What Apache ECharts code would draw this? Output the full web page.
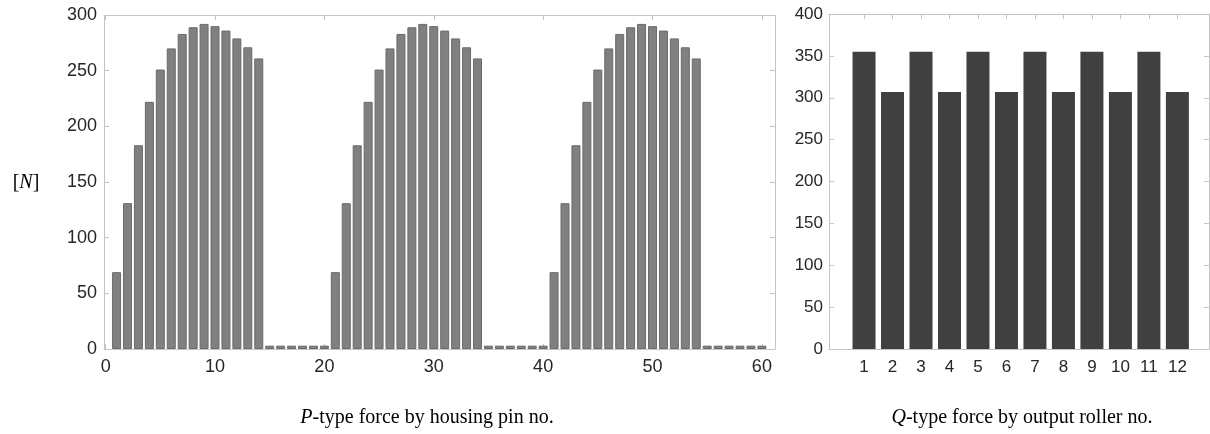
<!DOCTYPE html>
<html>
<head>
<meta charset="utf-8">
<script src="https://cdn.jsdelivr.net/npm/echarts@6/dist/echarts.min.js"></script>
<style>
html,body{margin:0;padding:0;background:#fff;}
#chart{width:1210px;height:434px;}
</style>
</head>
<body>
<div id="chart"></div>
<script>
// ---- Data ----
const pinNo = [1,2,3,4,5,6,7,8,9,10,11,12,13,14,15,16,17,18,19,20,
  21,22,23,24,25,26,27,28,29,30,31,32,33,34,35,36,37,38,39,40,
  41,42,43,44,45,46,47,48,49,50,51,52,53,54,55,56,57,58,59,60];
const pForce = [69,131,183,222,251,270,283,289,292,290,286,279,271,261,3,3,3,3,3,3,
  69,131,183,222,251,270,283,289,292,290,286,279,271,261,3,3,3,3,3,3,
  69,131,183,222,251,270,283,289,292,290,286,279,271,261,3,3,3,3,3,3];
const pTicks = [0,10,20,30,40,50,60];

const rollerNo = [1,2,3,4,5,6,7,8,9,10,11,12];
const qForce = [355,307,355,307,355,307,355,307,355,307,355,307];

const yLabel = '[N]';
const pCaption = 'P-type force by housing pin no.';
const qCaption = 'Q-type force by output roller no.';

// ---- Chart ----
const chart = echarts.init(document.getElementById('chart'), null, {renderer:'canvas'});
const frameColor = '#c4c4c4';
const labelColor = '#262626';
const sans = '"Liberation Sans", Arial, sans-serif';
const serif = '"Liberation Serif", "Times New Roman", serif';

function xAxisPair(gridIndex, min, max, ticks, fontSize, labelMargin) {
  return [
    { type:'value', gridIndex, position:'bottom', min, max,
      axisLine:{show:true, onZero:false, lineStyle:{color:frameColor, width:1}},
      axisTick:{show:true, inside:true, length:5, customValues:ticks, lineStyle:{color:frameColor}},
      axisLabel:{show:true, customValues:ticks, color:labelColor, fontFamily:sans, fontSize, margin:labelMargin},
      splitLine:{show:false} },
    { type:'value', gridIndex, position:'top', min, max,
      axisLine:{show:true, onZero:false, lineStyle:{color:frameColor, width:1}},
      axisTick:{show:true, inside:true, length:5, customValues:ticks, lineStyle:{color:frameColor}},
      axisLabel:{show:false},
      splitLine:{show:false} }
  ];
}
function yAxisPair(gridIndex, max, fontSize, labelMargin) {
  return [
    { type:'value', gridIndex, position:'left', min:0, max, interval:50,
      axisLine:{show:true, onZero:false, lineStyle:{color:frameColor, width:1}},
      axisTick:{show:true, inside:true, length:5, lineStyle:{color:frameColor}},
      axisLabel:{show:true, color:labelColor, fontFamily:sans, fontSize, margin:labelMargin},
      splitLine:{show:false} },
    { type:'value', gridIndex, position:'right', min:0, max, interval:50,
      axisLine:{show:true, onZero:false, lineStyle:{color:frameColor, width:1}},
      axisTick:{show:true, inside:true, length:5, lineStyle:{color:frameColor}},
      axisLabel:{show:false},
      splitLine:{show:false} }
  ];
}

const option = {
  backgroundColor:'#ffffff',
  animation:false,
  grid:[
    {left:104, top:15, width:671, height:334},
    {left:829, top:14, width:380, height:335}
  ],
  xAxis:[
    ...xAxisPair(0, -0.15, 61.2, pTicks, 18, 9),
    ...xAxisPair(1, -0.23, 13.11, rollerNo, 17, 10)
  ],
  yAxis:[
    ...yAxisPair(0, 300, 18, 7),
    ...yAxisPair(1, 400, 17, 6)
  ],
  series:[
    { type:'bar', xAxisIndex:0, yAxisIndex:0, barWidth:9,
      itemStyle:{color:'#808080', borderColor:'#6a6a6a', borderWidth:1},
      data: pinNo.map((n,i)=>[n, pForce[i]]) },
    { type:'bar', xAxisIndex:2, yAxisIndex:2, barWidth:23,
      itemStyle:{color:'#404040'},
      data: rollerNo.map((n,i)=>[n, qForce[i]]) }
  ],
  graphic:[
    { type:'text', x:26, y:183,
      style:{ text:'[{i|N}]', fontFamily:serif, fontSize:20, fill:'#000',
        align:'center', verticalAlign:'middle',
        rich:{ i:{fontStyle:'italic', fontFamily:serif, fontSize:20, fill:'#000'} } } },
    { type:'text', x:427, y:418,
      style:{ text:'{i|P}-type force by housing pin no.', fontFamily:serif, fontSize:20, fill:'#000',
        align:'center', verticalAlign:'middle',
        rich:{ i:{fontStyle:'italic', fontFamily:serif, fontSize:20, fill:'#000'} } } },
    { type:'text', x:1022, y:418,
      style:{ text:'{i|Q}-type force by output roller no.', fontFamily:serif, fontSize:20, fill:'#000',
        align:'center', verticalAlign:'middle',
        rich:{ i:{fontStyle:'italic', fontFamily:serif, fontSize:20, fill:'#000'} } } }
  ]
};
chart.setOption(option);
</script>
</body>
</html>
